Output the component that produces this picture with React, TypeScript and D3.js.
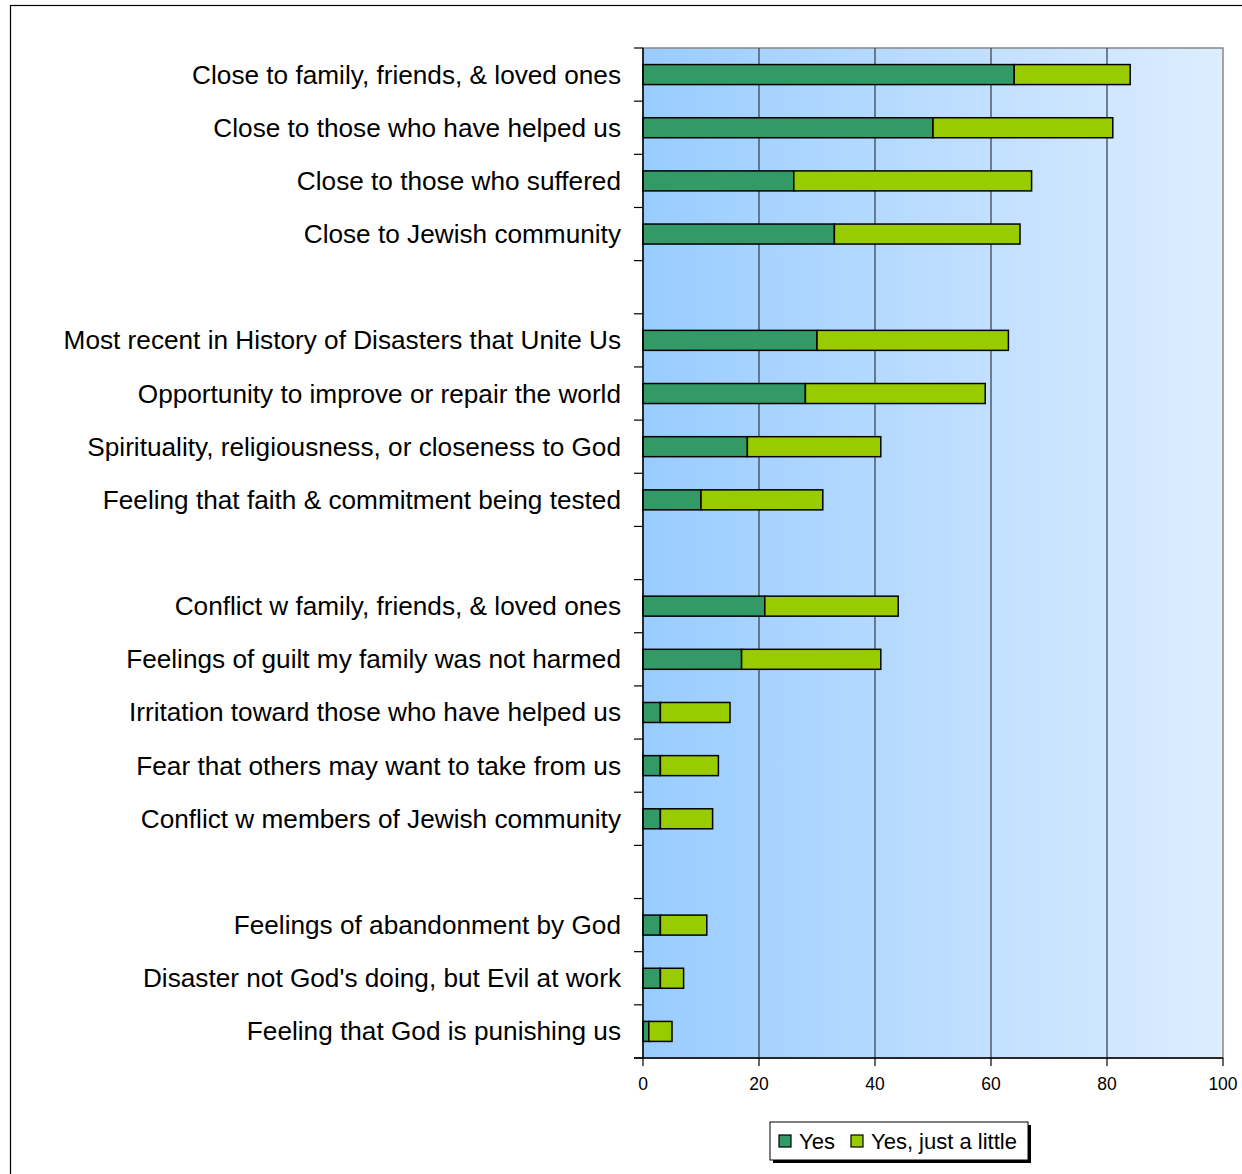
import React from "react";
import * as d3 from "d3";

const categories = [
  "Close to family, friends, & loved ones",
  "Close to those who have helped us",
  "Close to those who suffered",
  "Close to Jewish community",
  "",
  "Most recent in History of Disasters that Unite Us",
  "Opportunity to improve or repair the world",
  "Spirituality, religiousness, or closeness to God",
  "Feeling that faith & commitment being tested",
  " ",
  "Conflict w family, friends, & loved ones",
  "Feelings of guilt my family was not harmed",
  "Irritation toward those who have helped us",
  "Fear that others may want to take from us",
  "Conflict w members of Jewish community",
  "  ",
  "Feelings of abandonment by God",
  "Disaster not God's doing, but Evil at work",
  "Feeling that God is punishing us",
];

const yesValues = [64, 50, 26, 33, null, 30, 28, 18, 10, null, 21, 17, 3, 3, 3, null, 3, 3, 1];
const littleValues = [20, 31, 41, 32, null, 33, 31, 23, 21, null, 23, 24, 12, 10, 9, null, 8, 4, 4];

const xTicks = [0, 20, 40, 60, 80, 100];
const seriesNames = ["Yes", "Yes, just a little"];
const seriesColors = ["#339966", "#99CC00"];

const W = 1242;
const H = 1174;
const plot = { left: 643, right: 1223, top: 48, bottom: 1058 };

export default function App() {
  const x = d3.scaleLinear().domain([0, 100]).range([plot.left, plot.right]);
  const y = d3
    .scaleBand<number>()
    .domain(d3.range(categories.length))
    .range([plot.top, plot.bottom])
    .paddingInner(0)
    .paddingOuter(0);
  const bw = y.bandwidth();
  const barH = 20;
  const font = "Liberation Sans, Arial, sans-serif";

  const boundaries = d3.range(categories.length + 1).map((i) => plot.top + i * bw);

  return (
    <svg
      width={W}
      height={H}
      style={{ position: "absolute", left: 0, top: 0, display: "block" }}
    >
      <defs>
        <linearGradient id="bg" x1="0" x2="1" y1="0" y2="0">
          <stop offset="0%" stopColor="#99CCFF" />
          <stop offset="100%" stopColor="#DDEDFF" />
        </linearGradient>
      </defs>
      <rect x={0} y={0} width={W} height={H} fill="#fff" />
      {/* outer frame */}
      <rect x={10.5} y={5.5} width={W + 20} height={H + 20} fill="none" stroke="#000" strokeWidth={1.2} />

      {/* plot background */}
      <rect
        x={plot.left}
        y={plot.top}
        width={plot.right - plot.left}
        height={plot.bottom - plot.top}
        fill="url(#bg)"
        stroke="#888"
        strokeWidth={1.5}
      />
      {/* gridlines */}
      {xTicks.slice(1, -1).map((t) => (
        <line key={t} x1={x(t)} x2={x(t)} y1={plot.top} y2={plot.bottom} stroke="#3d4852" strokeWidth={1.3} />
      ))}

      {/* bars */}
      {categories.map((c, i) => {
        const yv = yesValues[i];
        const lv = littleValues[i];
        if (yv == null || lv == null) return null;
        const cy = (y(i) as number) + bw / 2;
        return (
          <g key={i}>
            <rect x={x(0)} y={cy - barH / 2} width={x(yv) - x(0)} height={barH} fill={seriesColors[0]} stroke="#000" strokeWidth={1.5} />
            <rect x={x(yv)} y={cy - barH / 2} width={x(yv + lv) - x(yv)} height={barH} fill={seriesColors[1]} stroke="#000" strokeWidth={1.5} />
          </g>
        );
      })}

      {/* axes */}
      <line x1={plot.left} x2={plot.left} y1={plot.top} y2={plot.bottom} stroke="#000" strokeWidth={1.5} />
      <line x1={plot.left - 9} x2={plot.right} y1={plot.bottom} y2={plot.bottom} stroke="#000" strokeWidth={1.5} />
      {boundaries.map((b, i) => (
        <line key={i} x1={plot.left - 9} x2={plot.left} y1={b} y2={b} stroke="#000" strokeWidth={1.2} />
      ))}
      {xTicks.map((t) => (
        <g key={t}>
          <line x1={x(t)} x2={x(t)} y1={plot.bottom} y2={plot.bottom + 8} stroke="#000" strokeWidth={1.2} />
          <text x={x(t)} y={plot.bottom + 32} textAnchor="middle" fontFamily={font} fontSize={17.5} fill="#000">
            {t}
          </text>
        </g>
      ))}

      {/* category labels */}
      {categories.map((c, i) =>
        c.trim() ? (
          <text
            key={i}
            x={621}
            y={(y(i) as number) + bw / 2 + 9}
            textAnchor="end"
            fontFamily={font}
            fontSize={26.2}
            fill="#000"
          >
            {c}
          </text>
        ) : null
      )}

      {/* legend */}
      <g>
        <rect x={773} y={1125} width={258} height={38} fill="#000" />
        <rect x={770} y={1122} width={258} height={38} fill="#fff" stroke="#000" strokeWidth={1} />
        <rect x={779} y={1135} width={12} height={12} fill={seriesColors[0]} stroke="#000" strokeWidth={1.2} />
        <text x={799} y={1149} fontFamily={font} fontSize={22} fill="#000">{seriesNames[0]}</text>
        <rect x={851} y={1135} width={12} height={12} fill={seriesColors[1]} stroke="#000" strokeWidth={1.2} />
        <text x={871} y={1149} fontFamily={font} fontSize={22} fill="#000">{seriesNames[1]}</text>
      </g>
    </svg>
  );
}
